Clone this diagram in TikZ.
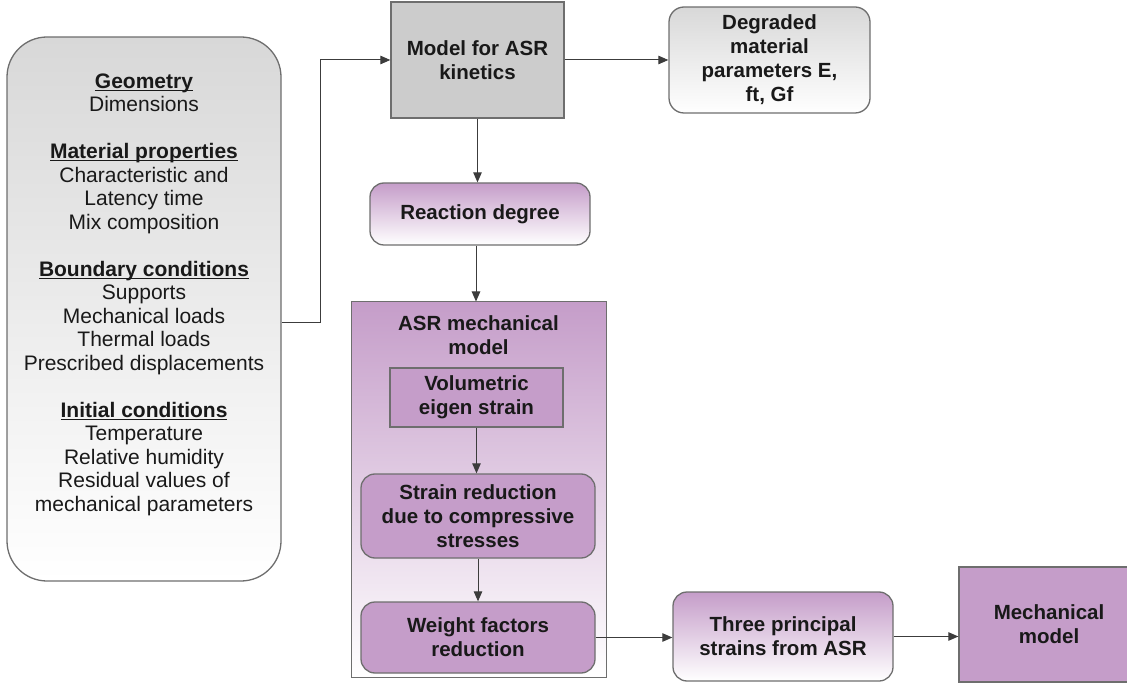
\documentclass[tikz,border=0pt]{standalone}
\usepackage{fontspec}
\setmainfont{Liberation Sans}
\usetikzlibrary{arrows.meta,positioning,shapes.geometric,calc}
\definecolor{asrPurple}{RGB}{197,157,201}
\definecolor{asrGrey}{RGB}{204,204,204}
\definecolor{asrLight}{RGB}{216,216,216}
\definecolor{asrEdge}{RGB}{110,110,110}
\definecolor{asrLine}{RGB}{60,60,60}
% bold heading with a rule just under the baseline
\newcommand{\inhead}[1]{\setbox0\hbox{\textbf{#1}}\rlap{\rule[-2.5pt]{\wd0}{1pt}}\box0}

\begin{document}
\begin{tikzpicture}[x=1pt,y=-1pt]
    \tikzset{
      box/.style={draw=asrEdge,line width=1.3pt,inner sep=0pt,align=center,
        font=\fontsize{20.5}{24}\selectfont\bfseries,text=black!90},
      greybox/.style={box,fill=asrGrey},
      fadegrey/.style={box,rounded corners=15pt,top color=asrLight,bottom color=white},
      fadepurple/.style={box,rounded corners=14pt,top color=asrPurple,bottom color=white},
      purplebox/.style={box,fill=asrPurple},
      roundpurple/.style={purplebox,rounded corners=14pt},
      flow/.style={draw=asrLine,line width=1pt,-{Triangle[length=10pt,width=8.5pt]}}
    }
    \useasboundingbox (0,0) rectangle (1127,684);
    \clip (0,0) rectangle (1127,684);
    % inputs on the left
    \node[box,rounded corners=40pt,top color=asrLight,bottom color=white,
      font=\fontsize{21}{23.5}\selectfont,minimum width=274pt,minimum height=544pt] (inputs) at (144,309) {%
      \inhead{Geometry}\\Dimensions\\[23.5pt]
      \inhead{Material properties}\\Characteristic and\\Latency time\\Mix composition\\[23.5pt]
      \inhead{Boundary conditions}\\Supports\\Mechanical loads\\Thermal loads\\Prescribed displacements\\[23.5pt]
      \inhead{Initial conditions}\\Temperature\\Relative humidity\\Residual values of\\mechanical parameters\\[10pt]\mbox{}};
    % kinetics chain
    \node[greybox,minimum width=173pt,minimum height=116pt] (kinetics) at (477.5,60) {Model for ASR\\kinetics};
    \node[fadegrey,minimum width=201pt,minimum height=106pt] (degraded) at (769.5,60) {Degraded\\material\\parameters E,\\ft, Gf};
    \node[fadepurple,minimum width=220pt,minimum height=62pt] (reaction) at (480,214) {Reaction degree};
    % mechanical model block
    \node[box,line width=1pt,top color=asrPurple,bottom color=white,minimum width=255pt,minimum height=375pt] (asrmech) at (478.5,489.5) {};
    \node[box,draw=none,below=13pt of asrmech.north] (asrtitle) {ASR mechanical\\model};
    \node[purplebox,minimum width=173pt,minimum height=59pt] (volumetric) at (476.5,397.5) {Volumetric\\eigen strain};
    \node[roundpurple,minimum width=234pt,minimum height=84pt] (reduction) at (478,516) {Strain reduction\\due to compressive\\stresses};
    \node[roundpurple,minimum width=234pt,minimum height=71pt] (weights) at (478,637.5) {Weight factors\\reduction};
    % outputs
    \node[fadepurple,minimum width=220pt,minimum height=89pt] (principal) at (783,636.5) {Three principal\\strains from ASR};
    \node[purplebox,minimum width=180pt,minimum height=115pt] (mechmodel) at (1049,624.5) {Mechanical\\model};
    % connectors
    \draw[flow] ([yshift=-14pt]inputs.east) -- ++(39,0) |- (kinetics.west);
    \draw[flow] (kinetics.east) -- (degraded.west);
    \draw[flow] (kinetics.south) -- (kinetics.south |- reaction.north);
    \draw[flow] ([xshift=-4pt]reaction.south) -- ([xshift=-4pt]reaction.south |- asrmech.north);
    \draw[flow] (volumetric.south) -- (volumetric.south |- reduction.north);
    \draw[flow] (reduction.south) -- (weights.north);
    \draw[flow] (weights.east) -- (weights.east -| principal.west);
    \draw[flow] (principal.east) -- (principal.east -| mechmodel.west);
  \end{tikzpicture}
\end{document}
